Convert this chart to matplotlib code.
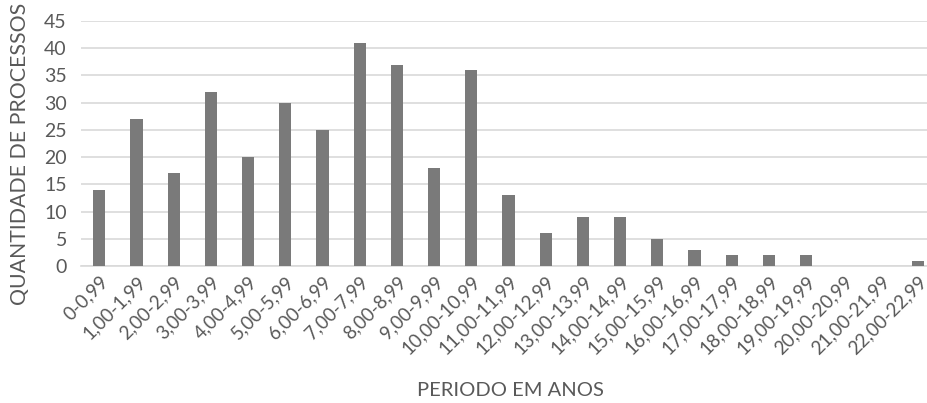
import matplotlib
matplotlib.use("Agg")
import matplotlib.pyplot as plt

periods = ["0-0,99", "1,00-1,99", "2,00-2,99", "3,00-3,99", "4,00-4,99",
           "5,00-5,99", "6,00-6,99", "7,00-7,99", "8,00-8,99", "9,00-9,99",
           "10,00-10,99", "11,00-11,99", "12,00-12,99", "13,00-13,99",
           "14,00-14,99", "15,00-15,99", "16,00-16,99", "17,00-17,99",
           "18,00-18,99", "19,00-19,99", "20,00-20,99", "21,00-21,99",
           "22,00-22,99"]
counts = [14, 27, 17, 32, 20, 30, 25, 41, 37, 18, 36, 13, 6, 9, 9, 5, 3,
          2, 2, 2, 0, 0, 1]
yticks = [0, 5, 10, 15, 20, 25, 30, 35, 40, 45]

plt.rcParams['font.family'] = ['Lato', 'DejaVu Sans']
text_color = '#595959'

fig = plt.figure(figsize=(9.28, 4.03), dpi=100)
ax = fig.add_axes([0.087, 0.34, 0.922, 0.608])

x = range(len(periods))
ax.bar(x, counts, width=0.33, color='#7a7a7a', zorder=3)

ax.set_xlim(-0.5, len(periods) - 0.5)
ax.set_ylim(0, 45)
ax.set_yticks(yticks)
ax.yaxis.grid(True, color='#d9d9d9', linewidth=1.2, zorder=0)
ax.set_xticks(list(x))
ax.set_xticklabels(periods, rotation=45, ha='right', rotation_mode='anchor',
                   fontsize=13.5, color=text_color)
ax.tick_params(axis='y', labelsize=14, colors=text_color, length=0, pad=10)
ax.tick_params(axis='x', length=0, pad=5)
for side in ['top', 'right', 'left']:
    ax.spines[side].set_visible(False)
ax.spines['bottom'].set_color('#d9d9d9')
ax.spines['bottom'].set_linewidth(1.2)

# axis titles placed on the figure
fig.text(0.022, 0.618, "QUANTIDADE DE PROCESSOS", fontsize=15.3, color=text_color,
         rotation=90, ha='center', va='center')
fig.text(0.55, 0.032, "PERIODO EM ANOS", fontsize=14.5, color=text_color,
         ha='center', va='center')

fig.savefig("out.png", dpi=100)
